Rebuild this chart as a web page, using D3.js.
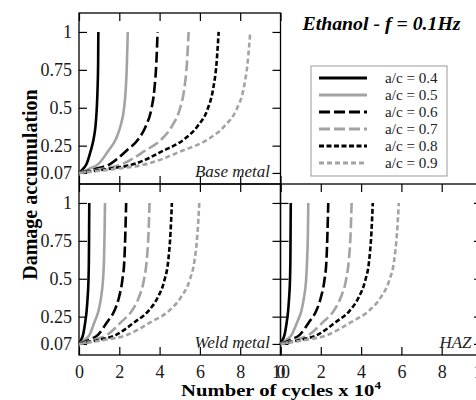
<!DOCTYPE html>
<html>
<head>
<meta charset="utf-8">
<script src="https://cdn.jsdelivr.net/npm/d3@7"></script>
<style>
  body { margin: 0; background: #fff; }
  svg { display: block; font-family: "Liberation Serif", "Times New Roman", serif; }
</style>
</head>
<body>
<svg id="chart" width="476" height="400"></svg>
<script>
// damage values shared by every curve, and the cycles (x 10^4) where each curve reaches them
const damage = [0.07, 0.095, 0.13, 0.215, 0.29, 0.38, 0.49, 0.62, 0.8, 1.0];
const ratios = ["a/c = 0.4", "a/c = 0.5", "a/c = 0.6", "a/c = 0.7", "a/c = 0.8", "a/c = 0.9"];

const baseCycles = [
  [0, 0.19, 0.38, 0.58, 0.72, 0.82, 0.88, 0.92, 0.95, 0.96],
  [0, 0.48, 0.97, 1.45, 1.82, 2.06, 2.23, 2.32, 2.38, 2.42],
  [0, 0.78, 1.56, 2.34, 2.93, 3.32, 3.59, 3.74, 3.84, 3.9],
  [0, 1.09, 2.18, 3.26, 4.08, 4.62, 5.0, 5.22, 5.36, 5.44],
  [0, 1.39, 2.77, 4.16, 5.2, 5.89, 6.38, 6.65, 6.83, 6.93],
  [0, 1.7, 3.4, 5.1, 6.38, 7.23, 7.82, 8.16, 8.37, 8.5]
];
const weldCycles = [
  [0, 0.1, 0.2, 0.31, 0.38, 0.43, 0.47, 0.49, 0.5, 0.51],
  [0, 0.26, 0.52, 0.77, 0.97, 1.1, 1.19, 1.24, 1.27, 1.29],
  [0, 0.47, 0.94, 1.4, 1.76, 1.99, 2.15, 2.25, 2.3, 2.34],
  [0, 0.7, 1.4, 2.1, 2.63, 2.98, 3.22, 3.36, 3.45, 3.5],
  [0, 0.92, 1.84, 2.77, 3.46, 3.92, 4.24, 4.43, 4.54, 4.61],
  [0, 1.19, 2.39, 3.58, 4.48, 5.07, 5.49, 5.73, 5.88, 5.97]
];
const hazCycles = [
  [0, 0.1, 0.2, 0.31, 0.38, 0.43, 0.47, 0.49, 0.5, 0.51],
  [0, 0.28, 0.55, 0.83, 1.04, 1.17, 1.27, 1.32, 1.36, 1.38],
  [0, 0.47, 0.95, 1.42, 1.78, 2.01, 2.18, 2.28, 2.33, 2.37],
  [0, 0.71, 1.41, 2.12, 2.65, 3.0, 3.25, 3.39, 3.48, 3.53],
  [0, 0.92, 1.83, 2.75, 3.44, 3.89, 4.21, 4.4, 4.51, 4.58],
  [0, 1.17, 2.35, 3.52, 4.4, 4.99, 5.4, 5.64, 5.78, 5.87]
];

const xTicks = [0, 2, 4, 6, 8, 10];
const yTicks = [0.07, 0.25, 0.5, 0.75, 1];
const yTickLabels = ["0.07", "0.25", "0.5", "0.75", "1"];

// line style per a/c ratio
const grey = "#a3a3a3";
const styles = [
  { color: "#000", dash: null },
  { color: grey, dash: null },
  { color: "#000", dash: "11,4" },
  { color: grey, dash: "11,4" },
  { color: "#000", dash: "5,2.5" },
  { color: grey, dash: "5,3" }
];

const svg = d3.select("#chart");
const pw = 201.5, ph = 171;

const panels = [
  { name: "Base metal", cycles: baseCycles, x0: 79, y0: 13, xLabels: false, yLabels: true },
  { name: "Weld metal", cycles: weldCycles, x0: 79, y0: 184, xLabels: true, yLabels: true },
  { name: "HAZ", cycles: hazCycles, x0: 280.5, y0: 184, xLabels: true, yLabels: false }
];

panels.forEach(function(p) {
  const x = d3.scaleLinear().domain([0, 10]).range([p.x0, p.x0 + pw]);
  const y = d3.scaleLinear().domain([-0.003, 1.125]).range([p.y0 + ph, p.y0]);
  const g = svg.append("g");

  const axes = [
    { gen: d3.axisBottom(x).tickValues(xTicks), at: "translate(0," + (p.y0 + ph) + ")", show: p.xLabels },
    { gen: d3.axisTop(x).tickValues(xTicks), at: "translate(0," + p.y0 + ")", show: false },
    { gen: d3.axisLeft(y).tickValues(yTicks), at: "translate(" + p.x0 + ",0)", show: p.yLabels, fmt: (d, i) => yTickLabels[i] },
    { gen: d3.axisRight(y).tickValues(yTicks), at: "translate(" + (p.x0 + pw) + ",0)", show: false }
  ];
  axes.forEach(function(a) {
    a.gen.tickSizeInner(-8).tickSizeOuter(0).tickPadding(a.gen === axes[0].gen ? 10 : 7);
    if (!a.show) a.gen.tickFormat("");
    else if (a.fmt) a.gen.tickFormat(a.fmt);
    const ag = g.append("g").attr("transform", a.at).call(a.gen);
    ag.select(".domain").remove();
    ag.selectAll("line").attr("stroke", "#000").attr("stroke-width", 1.2);
    ag.selectAll("text")
      .attr("font-family", "Liberation Serif, serif")
      .attr("font-size", 18)
      .attr("fill", "#1a1a1a");
  });

  g.append("rect")
    .attr("x", p.x0).attr("y", p.y0)
    .attr("width", pw).attr("height", ph)
    .attr("fill", "none").attr("stroke", "#000").attr("stroke-width", 1.3);

  const line = d3.line()
    .x(d => x(d[0]))
    .y(d => y(d[1]))
    .curve(d3.curveMonotoneX);

  p.cycles.forEach(function(c, i) {
    const pts = c.map((n, j) => [n, damage[j]]);
    g.append("path")
      .attr("d", line(pts))
      .attr("fill", "none")
      .attr("stroke", styles[i].color)
      .attr("stroke-width", 2.6)
      .attr("stroke-dasharray", styles[i].dash);
  });

  g.append("text")
    .attr("x", p.x0 + pw - 10.5)
    .attr("y", p.y0 + ph - 7)
    .attr("text-anchor", "end")
    .attr("font-style", "italic")
    .attr("font-size", 17)
    .attr("fill", "#222")
    .text(p.name);
});

// axis titles
svg.append("text")
  .attr("transform", "translate(37,184.5) rotate(-90) scale(1,1.1)")
  .attr("text-anchor", "middle")
  .attr("font-weight", "bold")
  .attr("font-size", 20)
  .text("Damage accumulation");

const xt = svg.append("text")
  .attr("transform", "translate(281,396) scale(1.18,1)")
  .attr("text-anchor", "middle")
  .attr("font-weight", "bold")
  .attr("font-size", 17.5);
xt.append("tspan").text("Number of cycles x 10");
xt.append("tspan").attr("dy", -7).attr("font-size", 11).text("4");

// title
svg.append("text")
  .attr("transform", "translate(381.5,30) scale(1.1,1)")
  .attr("text-anchor", "middle")
  .attr("font-weight", "bold")
  .attr("font-style", "italic")
  .attr("font-size", 18)
  .text("Ethanol - f = 0.1Hz");

// legend
const leg = svg.append("g");
leg.append("rect")
  .attr("x", 311).attr("y", 66)
  .attr("width", 136).attr("height", 110)
  .attr("fill", "#fff").attr("stroke", "#999").attr("stroke-width", 1);

const rows = leg.selectAll("g.row").data(ratios).join("g")
  .attr("class", "row")
  .attr("transform", (d, i) => "translate(0," + (78 + i * 17) + ")");
rows.append("line")
  .attr("x1", 319).attr("x2", 367)
  .attr("stroke", (d, i) => styles[i].color)
  .attr("stroke-width", 3)
  .attr("stroke-dasharray", (d, i) => styles[i].dash);
rows.append("text")
  .attr("transform", "translate(385,5) scale(1.08,1)")
  .attr("font-size", 14)
  .attr("fill", "#222")
  .text(d => d);
</script>
</body>
</html>
